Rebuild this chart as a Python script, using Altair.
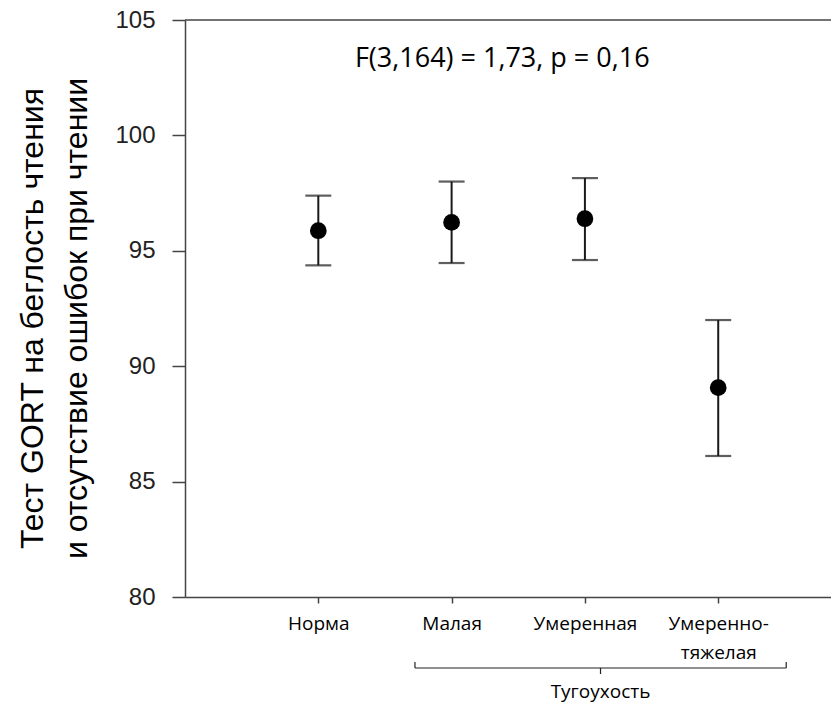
import altair as alt
import pandas as pd

# ---- data ----
groups = ["Норма", "Малая", "Умеренная", "Умеренно-тяжелая"]
tick_labels = ["Норма", "Малая", "Умеренная", "Умеренно-|тяжелая"]
positions = [1, 2, 3, 4]
means = [95.87, 96.23, 96.39, 89.07]
upper = [97.39, 98.00, 98.15, 92.00]
lower = [94.37, 94.47, 94.60, 86.11]

y_ticks = [80, 85, 90, 95, 100, 105]
y_title = ["Тест GORT на беглость чтения", "и отсутствие ошибок при чтении"]

annotation_text = ["F(3,164) = 1,73, p = 0,16"]
annotation_x = [2.38]
annotation_y = [102.98]

bracket_label = ["Тугоухость"]
bracket_start = [1.725]
bracket_end = [4.51]
bracket_mid = [3.117]

# ---- layout ----
W, H = 646, 577
X_MAX = 4.846

df = pd.DataFrame({"group": groups, "pos": positions, "mean": means,
                   "upper": upper, "lower": lower})
ann = pd.DataFrame({"text": annotation_text, "x": annotation_x, "y": annotation_y})
br = pd.DataFrame({"label": bracket_label, "start": bracket_start,
                   "end": bracket_end, "mid": bracket_mid})

label_expr = "split([" + ",".join("'" + l + "'" for l in tick_labels) + "][datum.value - 1], '|')"

xscale = alt.Scale(domain=[0, X_MAX], nice=False, zero=False)
yscale = alt.Scale(domain=[80, 105], nice=False, zero=False)

x_axis = alt.Axis(values=positions, labelExpr=label_expr, title=None, grid=False,
                  tickSize=6, tickColor="#444", tickWidth=1.5,
                  domainColor="#444", domainWidth=1.5,
                  labelFont="Open Sans", labelFontSize=19, labelColor="#000",
                  labelPadding=11, labelLineHeight=29, labelBaseline="top",
                  labelAlign="center")
y_axis = alt.Axis(values=y_ticks, title=y_title, grid=False,
                  tickSize=13, tickColor="#444", tickWidth=1.5,
                  domainColor="#444", domainWidth=1.5,
                  labelFont="Liberation Sans", labelFontSize=24, labelColor="#222",
                  labelPadding=17,
                  titleFont="Liberation Sans", titleFontSize=32, titleFontWeight="normal",
                  titleColor="#000", titleAngle=270, titleAlign="center",
                  titleBaseline="alphabetic", titleX=-143, titleY=298,
                  titleLineHeight=44)

base = alt.Chart(df)

bars = base.mark_rule(color="#1a1a1a", strokeWidth=2).encode(
    x=alt.X("pos:Q", scale=xscale, axis=x_axis),
    y=alt.Y("lower:Q", scale=yscale, axis=y_axis),
    y2="upper:Q",
)
caps_top = base.mark_tick(orient="horizontal", size=26, thickness=2.2, color="#1a1a1a").encode(
    x=alt.X("pos:Q", scale=xscale), y=alt.Y("upper:Q", scale=yscale))
caps_bot = base.mark_tick(orient="horizontal", size=26, thickness=2.2, color="#1a1a1a").encode(
    x=alt.X("pos:Q", scale=xscale), y=alt.Y("lower:Q", scale=yscale))
points = base.mark_circle(size=280, color="black", opacity=1).encode(
    x=alt.X("pos:Q", scale=xscale), y=alt.Y("mean:Q", scale=yscale))

top_line = alt.Chart(df.head(1)).mark_rule(color="#444", strokeWidth=1.5).encode(
    x=alt.value(0), x2=alt.value(W), y=alt.datum(105))

annotation = alt.Chart(ann).mark_text(font="Open Sans", fontSize=27, color="#000",
                                      align="center", baseline="alphabetic").encode(
    x=alt.X("x:Q", scale=xscale), y=alt.Y("y:Q", scale=yscale), text="text:N")

br_base = alt.Chart(br)
br_line = br_base.mark_rule(color="#222", strokeWidth=1.2, clip=False).encode(
    x=alt.X("start:Q", scale=xscale), x2="end:Q", y=alt.value(H + 71))
br_left = br_base.mark_rule(color="#222", strokeWidth=1.2, clip=False).encode(
    x=alt.X("start:Q", scale=xscale), y=alt.value(H + 65), y2=alt.value(H + 71))
br_right = br_base.mark_rule(color="#222", strokeWidth=1.2, clip=False).encode(
    x=alt.X("end:Q", scale=xscale), y=alt.value(H + 65), y2=alt.value(H + 71))
br_mid = br_base.mark_rule(color="#222", strokeWidth=1.2, clip=False).encode(
    x=alt.X("mid:Q", scale=xscale), y=alt.value(H + 71), y2=alt.value(H + 77))
br_text = br_base.mark_text(font="Open Sans", fontSize=19, color="#000",
                            align="center", baseline="alphabetic", clip=False).encode(
    x=alt.X("mid:Q", scale=xscale), y=alt.value(H + 101), text="label:N")

chart = alt.layer(
    top_line, bars, caps_top, caps_bot, points, annotation,
    br_line, br_left, br_right, br_mid, br_text
).properties(
    width=W, height=H,
    autosize=alt.AutoSizeParams(type="none"),
    padding={"left": 177, "top": 12, "right": 0, "bottom": 108},
).configure_view(stroke=None)

chart.save("out.html", embed_options={"renderer": "svg", "actions": False})
